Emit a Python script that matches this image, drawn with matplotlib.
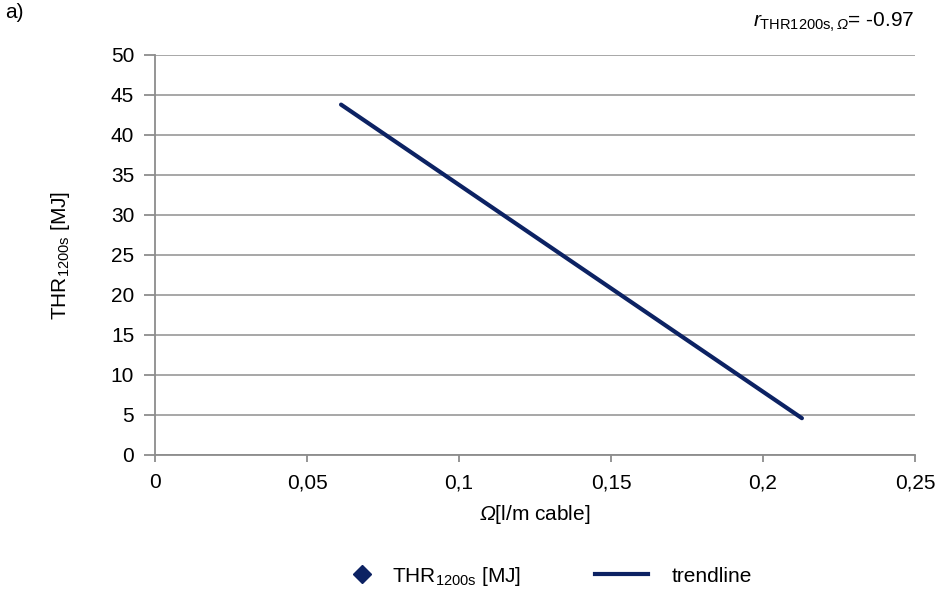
import matplotlib
matplotlib.use("Agg")
import matplotlib.pyplot as plt
from matplotlib.lines import Line2D

plt.rcParams['font.family'] = ['Liberation Sans', 'DejaVu Sans']
plt.rcParams['mathtext.fontset'] = 'custom'
plt.rcParams['mathtext.rm'] = 'Liberation Sans'
plt.rcParams['mathtext.it'] = 'Liberation Sans:italic'
plt.rcParams['mathtext.sf'] = 'Liberation Sans:italic'
plt.rcParams['mathtext.default'] = 'regular'

# Data
omega_points = []          # measured points (none visible in the chart)
thr_points = []
trend_x = [0.0612, 0.2128]
trend_y = [43.8, 4.6]
x_ticks = [0, 0.05, 0.1, 0.15, 0.2, 0.25]
x_tick_labels = ["0", "0,05", "0,1", "0,15", "0,2", "0,25"]
y_ticks = [0, 5, 10, 15, 20, 25, 30, 35, 40, 45, 50]
r_value = "-0.97"

navy = '#0c2263'
grid_c = '#a0a0a0'
axis_c = '#8c8c8c'
fs = 15

fig = plt.figure(figsize=(9.43, 5.92), dpi=100)
ax = fig.add_axes([155/943, 1 - 455/592, 760/943, 400/592])

pts = ax.scatter(omega_points, thr_points, marker='D', s=40, color=navy, zorder=3)
trend, = ax.plot(trend_x, trend_y, color=navy, lw=3, solid_capstyle='round', zorder=3)

ax.set_xlim(0, 0.25)
ax.set_ylim(0, 50)
ax.set_xticks(x_ticks)
ax.set_xticklabels(x_tick_labels)
ax.set_yticks(y_ticks)
ax.set_yticklabels([str(v) for v in y_ticks])
ax.yaxis.grid(True, color=grid_c, lw=1.3)
ax.set_axisbelow(True)
for s in ['top', 'right']:
    ax.spines[s].set_visible(False)
for s in ['left', 'bottom']:
    ax.spines[s].set_color(axis_c)
    ax.spines[s].set_linewidth(1.3)
ax.tick_params(axis='both', colors=axis_c, width=1.3, labelsize=fs, labelcolor='black')
ax.tick_params(axis='x', length=5, pad=8)
ax.tick_params(axis='y', length=8, pad=7)

ax.set_xlabel(r'$\mathsf{Ω}$[l/m cable]', fontsize=fs)
ax.set_ylabel(r'THR$_{1200s}$ [MJ]', fontsize=fs)
ax.xaxis.set_label_coords(0.5, -(514 - 455) / 400, transform=ax.transAxes)
ax.xaxis.label.set_va('center')
ax.yaxis.set_label_coords((60 - 155) / 760, 0.5, transform=ax.transAxes)
ax.yaxis.label.set_va('center')

fig.text(5/943, 1 - 12/592, 'a)', fontsize=fs, va='center', ha='left')
fig.text(915/943, 1 - 22/592, r'$\mathit{r}_{\rm THR1200s,\mathsf{Ω}}$= ' + r_value,
         fontsize=fs, va='center', ha='right')

h1 = Line2D([], [], marker='D', color=navy, ls='none', markersize=9)
h2 = Line2D([], [], color=navy, lw=3)
leg1 = fig.legend([h1], [r'THR$_{1200s}$ [MJ]'], loc='center left',
                  bbox_to_anchor=(346/943, 1 - 576/592), frameon=False, fontsize=fs,
                  handlelength=1.5, handletextpad=0.7, borderpad=0, borderaxespad=0)
leg2 = fig.legend([h2], ['trendline'], loc='center left',
                  bbox_to_anchor=(595/943, 1 - 576/592), frameon=False, fontsize=fs,
                  handlelength=2.55, handletextpad=1.15, borderpad=0, borderaxespad=0)

fig.savefig('out.png', dpi=100)
